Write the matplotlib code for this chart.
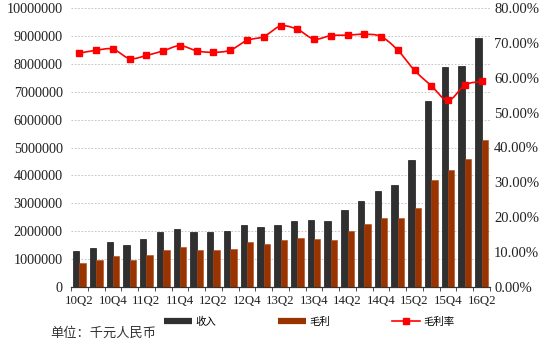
import numpy as np
import matplotlib
matplotlib.use("Agg")
import matplotlib.pyplot as plt
from matplotlib.lines import Line2D

quarters = ["10Q2","10Q3","10Q4","11Q1","11Q2","11Q3","11Q4","12Q1","12Q2","12Q3","12Q4","13Q1",
            "13Q2","13Q3","13Q4","14Q1","14Q2","14Q3","14Q4","15Q1","15Q2","15Q3","15Q4","16Q1","16Q2"]
revenue = [1290000,1400000,1630000,1490000,1720000,1960000,2090000,1960000,1960000,1990000,2240000,2150000,
           2240000,2360000,2410000,2360000,2760000,3100000,3450000,3640000,4550000,6660000,7880000,7910000,8910000]
gross_profit = [860000,950000,1110000,980000,1160000,1320000,1440000,1310000,1310000,1350000,1610000,1540000,
                1690000,1740000,1720000,1690000,1990000,2260000,2470000,2490000,2840000,3830000,4200000,4570000,5270000]
margin = [67.1,67.9,68.2,65.5,66.4,67.7,69.2,67.7,67.3,67.9,70.7,71.8,
          74.8,73.9,71.1,72.1,72.2,72.5,71.8,67.9,62.1,57.7,53.5,57.9,59.0]
legend_labels = ["收入", "毛利", "毛利率"]
unit_text = "单位：千元人民币"

serif = ["Liberation Serif", "DejaVu Serif"]
cjk = ["Noto Sans CJK SC", "DejaVu Sans"]

fig = plt.figure(figsize=(5.5, 3.46), dpi=100)
ax = fig.add_axes([71/550, 1-287/346, 419/550, 279/346])
ax2 = ax.twinx()

x = np.arange(len(quarters))
w = 0.38
c_rev = "#303030"
c_gp = "#993300"
c_line = "#FF0000"
ax.bar(x - w/2, revenue, width=w, color=c_rev, edgecolor="#1a1a1a", linewidth=0.5, zorder=3)
ax.bar(x + w/2, gross_profit, width=w, color=c_gp, edgecolor="#b04a1a", linewidth=0.4, zorder=3)

# smooth curve through the margin points (Catmull-Rom), markers at the data
def catmull(xs, ys, n=20):
    px = np.concatenate([[2*xs[0]-xs[1]], xs, [2*xs[-1]-xs[-2]]])
    py = np.concatenate([[2*ys[0]-ys[1]], ys, [2*ys[-1]-ys[-2]]])
    ox, oy = [], []
    for i in range(1, len(px)-2):
        t = np.linspace(0, 1, n, endpoint=False)
        for arr, out in ((px, ox), (py, oy)):
            p0, p1, p2, p3 = arr[i-1], arr[i], arr[i+1], arr[i+2]
            out.extend(0.5*((2*p1) + (-p0+p2)*t + (2*p0-5*p1+4*p2-p3)*t**2 + (-p0+3*p1-3*p2+p3)*t**3))
    ox.append(xs[-1]); oy.append(ys[-1])
    return np.array(ox), np.array(oy)

mx, my = catmull(x.astype(float), np.array(margin, dtype=float))
ax2.plot(mx, my, color=c_line, lw=1.2, zorder=4)
ax2.plot(x, margin, ls="none", marker="s", ms=4.3, color=c_line, zorder=5)

ax.set_xlim(-0.5, len(quarters)-0.5)
ax.set_ylim(0, 10000000)
ax2.set_ylim(0, 80)
ax.set_yticks(np.arange(0, 10000001, 1000000))
ax.set_yticklabels([f"{v}" for v in range(0, 10000001, 1000000)], fontfamily=serif, fontsize=10.2, color="#222222")
ax2.set_yticks(np.arange(0, 81, 10))
ax2.set_yticklabels([f"{v:.2f}%" for v in range(0, 81, 10)], fontfamily=serif, fontsize=10.5, color="#222222")
ax.set_xticks(x[::2])
ax.set_xticklabels(quarters[::2], fontfamily=serif, fontsize=9.3, color="#222222")
ax.set_xticks(np.arange(-0.5, len(quarters), 1), minor=True)
ax.tick_params(axis="x", which="major", length=0, pad=6)
ax.tick_params(axis="x", which="minor", length=3, color="#333333")
ax.tick_params(axis="y", length=0, pad=6)
ax2.tick_params(axis="y", length=0, pad=3)
ax.yaxis.grid(True, ls=(0, (2, 2)), color="#bbbbbb", lw=0.6, zorder=0)
ax.set_axisbelow(True)
for a in (ax, ax2):
    for s in ("top", "left", "right"):
        a.spines[s].set_visible(False)
    a.spines["bottom"].set_color("#333333")
    a.patch.set_visible(False)

handles = [Line2D([0], [0], color=c_rev, lw=4.5, solid_capstyle="butt"),
           Line2D([0], [0], color=c_gp, lw=4.5, solid_capstyle="butt"),
           Line2D([0], [0], color=c_line, lw=1.2, marker="s", ms=4.3)]
fig.legend(handles, legend_labels, loc="center", bbox_to_anchor=(0.562, 1-322/346), ncol=3,
           frameon=False, prop={"family": cjk, "size": 7.5}, columnspacing=6.0,
           handlelength=2.7, handletextpad=0.25)
fig.text(50/550, 1-333/346, unit_text, fontfamily=cjk, fontsize=9.5, va="center", ha="left", color="#333333")

fig.savefig("out.png", dpi=100)
